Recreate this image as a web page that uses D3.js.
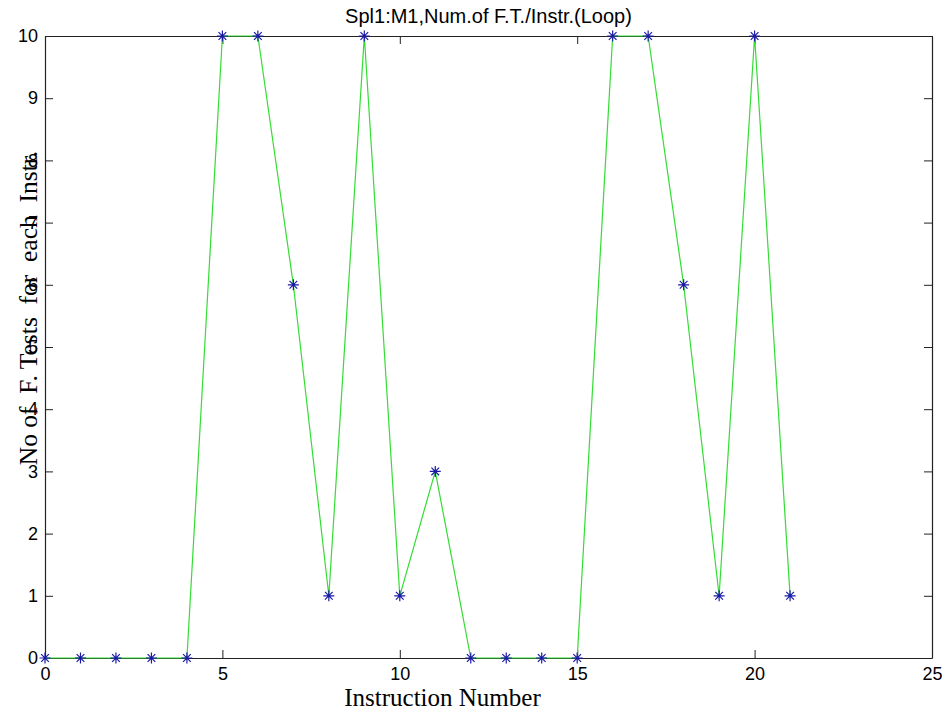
<!DOCTYPE html>
<html><head><meta charset="utf-8">
<script src="https://cdn.jsdelivr.net/npm/d3@7"></script>
<style>body{margin:0;background:#fff}svg{display:block}</style>
</head><body>
<script>
const instr = [0,1,2,3,4,5,6,7,8,9,10,11,12,13,14,15,16,17,18,19,20,21];
const tests = [0,0,0,0,0,10,10,6,1,10,1,3,0,0,0,0,10,10,6,1,10,1];
const xTicks = [0,5,10,15,20,25];
const yTicks = [0,1,2,3,4,5,6,7,8,9,10];
const title = "Spl1:M1,Num.of F.T./Instr.(Loop)";
const xLabel = "Instruction Number";
const yLabel = "No of  F. Tests  for  each  Instr.";

const W = 946, H = 713;
const L = 45, R = 932, T = 36, B = 658;
const svg = d3.select("body").append("svg").attr("width", W).attr("height", H);
const x = d3.scaleLinear().domain([0,25]).range([L,R]);
const y = d3.scaleLinear().domain([0,10]).range([B,T]);
const tickLen = 8;
const axisColor = "#222";

const gB = svg.append("g").attr("transform",`translate(0,${B})`)
  .call(d3.axisBottom(x).tickValues(xTicks).tickSizeInner(-tickLen).tickSizeOuter(0).tickPadding(9));
const gT = svg.append("g").attr("transform",`translate(0,${T})`)
  .call(d3.axisTop(x).tickValues(xTicks).tickSizeInner(-tickLen).tickSizeOuter(0).tickFormat(""));
const gL = svg.append("g").attr("transform",`translate(${L},0)`)
  .call(d3.axisLeft(y).tickValues(yTicks).tickSizeInner(-tickLen).tickSizeOuter(0).tickPadding(7));
const gR = svg.append("g").attr("transform",`translate(${R},0)`)
  .call(d3.axisRight(y).tickValues(yTicks).tickSizeInner(-tickLen).tickSizeOuter(0).tickFormat(""));
[gB,gT,gL,gR].forEach(g=>{
  g.selectAll("path.domain").attr("stroke",axisColor).attr("stroke-width",1.2);
  g.selectAll(".tick line").attr("stroke",axisColor);
  g.selectAll(".tick text").attr("fill","#000").style("font-family","Arial, 'Liberation Sans', sans-serif").style("font-size","18px");
});

svg.append("path").datum(instr.map((d,i)=>[d,tests[i]]))
  .attr("fill","none").attr("stroke","#33dd33").attr("stroke-width",1.2)
  .attr("d", d3.line().x(d=>x(d[0])).y(d=>y(d[1])));

const r = 5.5;
const star = `M0,${-r}L0,${r}M${-r},0L${r},0M${-r*0.7},${-r*0.7}L${r*0.7},${r*0.7}M${-r*0.7},${r*0.7}L${r*0.7},${-r*0.7}`;
svg.append("g").selectAll("path").data(instr.map((d,i)=>[d,tests[i]])).join("path")
  .attr("transform",d=>`translate(${x(d[0])},${y(d[1])})`)
  .attr("d",star).attr("stroke","#1a1aa8").attr("stroke-width",1.2).attr("fill","none");

svg.append("text").attr("x",(L+R)/2).attr("y",23).attr("text-anchor","middle")
  .style("font-family","Arial, 'Liberation Sans', sans-serif").style("font-size","20px").text(title);
svg.append("text").attr("x",(L+R)/2 - 46).attr("y",706).attr("text-anchor","middle")
  .style("font-family","'Liberation Serif','Times New Roman',serif").style("font-size","25px").text(xLabel);
svg.append("text").attr("transform",`translate(37,${308}) rotate(-90)`).attr("text-anchor","middle")
  .style("font-family","'Liberation Serif','Times New Roman',serif").style("font-size","25.5px")
  .style("white-space","pre").attr("xml:space","preserve").text(yLabel);
</script>
</body></html>
